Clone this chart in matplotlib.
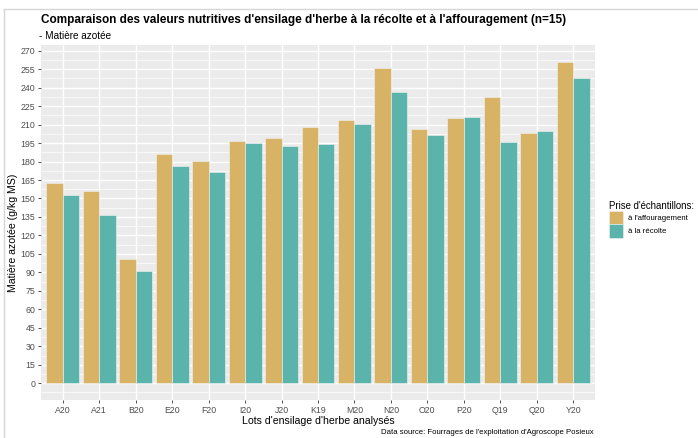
import matplotlib
matplotlib.use("Agg")
import matplotlib.pyplot as plt
import numpy as np
from matplotlib.patches import Patch
from matplotlib.lines import Line2D

plt.rcParams['font.family'] = ['Liberation Sans', 'DejaVu Sans']

categories = ["A20", "A21", "B20", "E20", "F20", "I20", "J20", "K19", "M20",
              "N20", "O20", "P20", "Q19", "Q20", "Y20"]
affouragement = [162.7, 155.9, 100.6, 186.2, 180.1, 196.8, 198.8, 207.7, 213.4,
                 256.2, 206.1, 215.3, 232.6, 202.8, 260.8]
recolte = [152.9, 136.6, 90.8, 176.2, 171.6, 194.7, 192.7, 193.9, 210.6,
           236.2, 201.2, 216.3, 195.8, 204.4, 247.5]
series_labels = ["à l'affouragement", "à la récolte"]
yticks = list(range(0, 271, 15))

W, H = 698, 438
fig = plt.figure(figsize=(W / 100, H / 100), dpi=100)

def fx(px):
    return px / W

def fy(py):
    return 1 - py / H

# frame border (left/top)
fig.add_artist(Line2D([fx(4), fx(4)], [fy(9), 0], color="#D6D6D6", lw=1))
fig.add_artist(Line2D([fx(4), 1], [fy(9), fy(9)], color="#D6D6D6", lw=1))

left, right, top, bottom = 41, 595, 45, 400
ax = fig.add_axes([fx(left), fy(bottom), (right - left) / W, (bottom - top) / H])
ax.set_facecolor("#EBEBEB")
for s in ax.spines.values():
    s.set_visible(False)

x = np.arange(1, len(categories) + 1)
bw = 0.45
gold, teal = "#D8B365", "#5AB4AC"
ax.bar(x - bw / 2, affouragement, width=bw, color=gold, edgecolor="#F2F2F2",
       linewidth=0.4, zorder=3, label=series_labels[0])
ax.bar(x + bw / 2, recolte, width=bw, color=teal, edgecolor="#F2F2F2",
       linewidth=0.4, zorder=3, label=series_labels[1])

ax.set_xlim(0.4, 15.6)
ax.set_ylim(-13.6, 274.6)
ax.set_xticks(x)
ax.set_xticklabels(categories)
ax.set_yticks(yticks)
ax.set_yticks([v + 7.5 for v in yticks[:-1]] + [-7.5], minor=True)
ax.grid(which="major", color="white", linewidth=1.0, zorder=0)
ax.grid(which="minor", axis="y", color="white", linewidth=0.5, zorder=0)
ax.set_axisbelow(True)
ax.tick_params(axis="both", which="major", labelsize=6.3, labelcolor="#4D4D4D",
               color="#333333", length=2.5, width=0.6, pad=1.5)
ax.tick_params(axis="both", which="minor", length=0)

ax.set_xlabel("Lots d'ensilage d'herbe analysés", fontsize=7.6)
ax.set_ylabel("Matière azotée (g/kg MS)", fontsize=7.6)
ax.xaxis.set_label_coords((318 - left) / (right - left), (bottom - 421) / (bottom - top))
ax.yaxis.set_label_coords((13 - left) / (right - left), (bottom - 233) / (bottom - top))
ax.xaxis.label.set_va("center")
ax.yaxis.label.set_va("center")

fig.text(fx(41), fy(20), "Comparaison des valeurs nutritives d'ensilage d'herbe à la récolte et à l'affouragement (n=15)",
         fontsize=8.5, fontweight="bold", ha="left", va="center")
fig.text(fx(39), fy(36), "- Matière azotée", fontsize=7.2, ha="left", va="center")
fig.text(fx(594), fy(433), "Data source: Fourrages de l'exploitation d'Agroscope Posieux",
         fontsize=5.6, ha="right", va="center")

handles = [Patch(facecolor=gold, edgecolor="#F2F2F2", linewidth=0.4),
           Patch(facecolor=teal, edgecolor="#F2F2F2", linewidth=0.4)]
leg = fig.legend(handles, series_labels, title="Prise d'échantillons:",
                 loc="upper left", bbox_to_anchor=(fx(607), fy(199)),
                 fontsize=5.6, title_fontsize=6.9, frameon=False,
                 handlelength=1.9, handleheight=2.3, handletextpad=0.6,
                 labelspacing=0.0, borderaxespad=0, borderpad=0.2)
leg._legend_box.align = "left"

fig.savefig("out.png", dpi=100)
